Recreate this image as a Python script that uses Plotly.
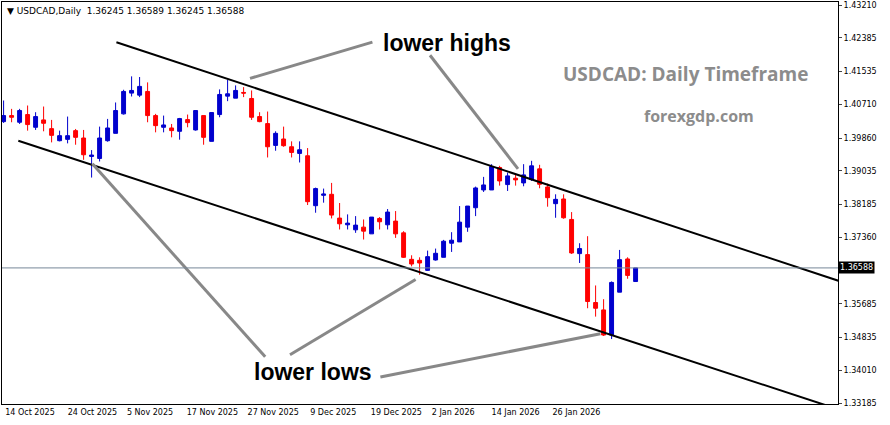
import plotly.graph_objects as go

# daily candles, oldest first
opens = [1.40273, 1.40425, 1.40257, 1.40451, 1.40130, 1.40316, 1.40096, 1.39792, 1.39826, 1.40046,
         1.39860, 1.39396, 1.39345, 1.39792, 1.39978, 1.40468, 1.40991, 1.40940, 1.41033, 1.40425,
         1.40130, 1.40113, 1.40029, 1.40324, 1.40063, 1.40425, 1.39776, 1.40451, 1.40915, 1.40864,
         1.41008, 1.40856, 1.40400, 1.40223, 1.39674, 1.39835, 1.39640, 1.39472, 1.39413, 1.38155,
         1.38417, 1.38442, 1.37843, 1.37674, 1.37547, 1.37615, 1.37446, 1.37834, 1.37674, 1.37767,
         1.37471, 1.36804, 1.36779, 1.36526, 1.36788, 1.36855, 1.37210, 1.37243, 1.37615, 1.38104,
         1.38552, 1.38552, 1.39117, 1.38687, 1.38847, 1.38729, 1.38813, 1.39083, 1.38627, 1.38206,
         1.38324, 1.37809, 1.36948, 1.36923, 1.35716, 1.35530, 1.34897, 1.35977, 1.36813, 1.36245]
highs = [1.40805, 1.40594, 1.40594, 1.40679, 1.40510, 1.40653, 1.40316, 1.40046, 1.40400, 1.40088,
         1.40063, 1.39556, 1.40147, 1.40341, 1.40755, 1.41075, 1.41413, 1.41396, 1.41261, 1.40468,
         1.40425, 1.40214, 1.40366, 1.40451, 1.40552, 1.40425, 1.40501, 1.41084, 1.41328, 1.41185,
         1.41143, 1.41058, 1.40510, 1.40527, 1.40029, 1.40147, 1.39776, 1.39776, 1.39607, 1.38611,
         1.38586, 1.38729, 1.38223, 1.37936, 1.37893, 1.37809, 1.37868, 1.37868, 1.38071, 1.38020,
         1.37513, 1.36906, 1.36855, 1.37024, 1.37075, 1.37294, 1.37488, 1.38146, 1.38146, 1.38636,
         1.38881, 1.39201, 1.39159, 1.38990, 1.38931, 1.39201, 1.39286, 1.39185, 1.38712, 1.38442,
         1.38442, 1.37994, 1.37210, 1.37387, 1.36146, 1.35800, 1.36248, 1.37041, 1.36855, 1.36589]
lows = [1.40240, 1.40257, 1.40214, 1.40046, 1.40063, 1.40029, 1.39750, 1.39776, 1.39725, 1.39691,
        1.39311, 1.38864, 1.39269, 1.39767, 1.39978, 1.40451, 1.40906, 1.40890, 1.40257, 1.40003,
        1.40003, 1.39877, 1.39818, 1.40130, 1.40046, 1.39691, 1.39776, 1.40383, 1.40788, 1.40864,
        1.40890, 1.40316, 1.40257, 1.39370, 1.39539, 1.39640, 1.39370, 1.39244, 1.38172, 1.37978,
        1.38231, 1.37834, 1.37556, 1.37556, 1.37471, 1.37303, 1.37446, 1.37556, 1.37556, 1.37345,
        1.36838, 1.36627, 1.36416, 1.36517, 1.36771, 1.36855, 1.36990, 1.37243, 1.37497, 1.37893,
        1.38501, 1.38552, 1.38661, 1.38526, 1.38661, 1.38644, 1.38779, 1.38594, 1.38130, 1.37851,
        1.37826, 1.36939, 1.36712, 1.35572, 1.35361, 1.34872, 1.34796, 1.35977, 1.36315, 1.36245]
closes = [1.40425, 1.40383, 1.40552, 1.40198, 1.40400, 1.40231, 1.39927, 1.39919, 1.39919, 1.39877,
          1.39438, 1.39430, 1.39860, 1.40113, 1.40552, 1.41033, 1.41058, 1.41160, 1.40425, 1.40172,
          1.40189, 1.40046, 1.40349, 1.40248, 1.40552, 1.39877, 1.40501, 1.40957, 1.40974, 1.41058,
          1.40991, 1.40383, 1.40273, 1.39640, 1.39978, 1.39666, 1.39497, 1.39564, 1.38256, 1.38586,
          1.38450, 1.37919, 1.37699, 1.37716, 1.37666, 1.37514, 1.37868, 1.37750, 1.37995, 1.37446,
          1.36855, 1.36686, 1.36712, 1.36872, 1.36956, 1.37260, 1.37286, 1.37741, 1.38146, 1.38602,
          1.38678, 1.39142, 1.38779, 1.38906, 1.38805, 1.38931, 1.39159, 1.38695, 1.38357, 1.38315,
          1.37851, 1.36965, 1.37075, 1.35741, 1.35572, 1.34897, 1.36222, 1.36796, 1.36399, 1.36588]
bars = list(range(len(opens)))

last_price = 1.36588
# 1.36510 sits under the last-price box, so it is not labelled
price_ticks = [1.43210, 1.42385, 1.41535, 1.40710, 1.39860, 1.39035, 1.38185, 1.37360,
               1.35685, 1.34835, 1.34010, 1.33185]
date_pos = [3.3, 11.1, 18.3, 26.1, 33.7, 41.2, 49.1, 56.2, 64.0, 71.6]
date_labels = ["14 Oct 2025", "24 Oct 2025", "5 Nov 2025", "17 Nov 2025", "27 Nov 2025",
               "9 Dec 2025", "19 Dec 2025", "2 Jan 2026", "14 Jan 2026", "26 Jan 2026"]

# channel lines (bar, price)
upper_channel = [(14.1, 1.42274), (104.6, 1.36247)]
lower_channel = [(1.84, 1.39792), (103.1, 1.33108)]
# gray pointer lines
pointers = [
    [(30.8, 1.41362), (46.1, 1.42274)],
    [(53.3, 1.41944), (64.3, 1.39083)],
    [(32.7, 1.34348), (11.1, 1.39210)],
    [(35.8, 1.34399), (51.5, 1.36298)],
    [(47.1, 1.33842), (74.6, 1.34931)],
]

fig = go.Figure()
fig.add_trace(go.Candlestick(
    x=bars, open=opens, high=highs, low=lows, close=closes,
    increasing=dict(line=dict(color="#0000CD", width=1), fillcolor="#0000CD"),
    decreasing=dict(line=dict(color="#FF0000", width=1), fillcolor="#FF0000"),
    whiskerwidth=0, showlegend=False, hoverinfo="skip",
))

for (x0, y0), (x1, y1) in [upper_channel, lower_channel]:
    fig.add_shape(type="line", x0=x0, y0=y0, x1=x1, y1=y1, line=dict(color="black", width=2))
for (x0, y0), (x1, y1) in pointers:
    fig.add_shape(type="line", x0=x0, y0=y0, x1=x1, y1=y1, line=dict(color="#888888", width=3))

fig.add_hline(y=last_price, line=dict(color="#778899", width=1))

ann_font = dict(family="Liberation Sans", size=23, color="black")
fig.add_annotation(x=0.532, y=0.898, xref="paper", yref="paper", text="<b>lower highs</b>",
                   xanchor="center", yanchor="middle", showarrow=False, font=ann_font)
fig.add_annotation(x=0.372, y=0.08, xref="paper", yref="paper", text="<b>lower lows</b>",
                   xanchor="center", yanchor="middle", showarrow=False, font=ann_font)
fig.add_annotation(x=0.818, y=0.82, xref="paper", yref="paper", text="<b>USDCAD: Daily Timeframe</b>",
                   xanchor="center", yanchor="middle", showarrow=False,
                   font=dict(family="Open Sans", size=19, color="#8C8C8C"))
fig.add_annotation(x=0.834, y=0.716, xref="paper", yref="paper", text="<b>forexgdp.com</b>",
                   xanchor="center", yanchor="middle", showarrow=False,
                   font=dict(family="Open Sans", size=16, color="#8C8C8C"))
fig.add_annotation(x=0.003, y=0.995, xref="paper", yref="paper", xanchor="left", yanchor="top",
                   text="▼ USDCAD,Daily  1.36245 1.36589 1.36245 1.36588", showarrow=False,
                   font=dict(family="DejaVu Sans", size=9, color="black"))
fig.add_annotation(x=1.0, y=last_price, xref="paper", yref="y", xanchor="left", yanchor="middle",
                   text="%.5f" % last_price, showarrow=False, bgcolor="black",
                   font=dict(family="DejaVu Sans", size=8, color="white"), borderpad=1)

fig.update_layout(
    width=890, height=425, margin=dict(l=2, r=52, t=2, b=21, autoexpand=False),
    paper_bgcolor="white", plot_bgcolor="white",
    xaxis=dict(range=[-0.2, 104.3], tickvals=date_pos, ticktext=date_labels, automargin=False,
               rangeslider=dict(visible=False), showgrid=False, zeroline=False,
               showline=True, mirror=True, linecolor="black", ticks="",
               tickfont=dict(family="DejaVu Sans", size=8, color="black")),
    yaxis=dict(range=[1.33160, 1.43286], side="right", tickvals=price_ticks, automargin=False,
               ticktext=["%.5f" % p for p in price_ticks], showgrid=False, zeroline=False,
               showline=True, mirror=True, linecolor="black", ticks="outside", ticklen=3,
               tickfont=dict(family="DejaVu Sans", size=8, color="black")),
)

fig.write_html("out.html", config={"displayModeBar": False},
               post_script="document.body.style.margin='0';")
